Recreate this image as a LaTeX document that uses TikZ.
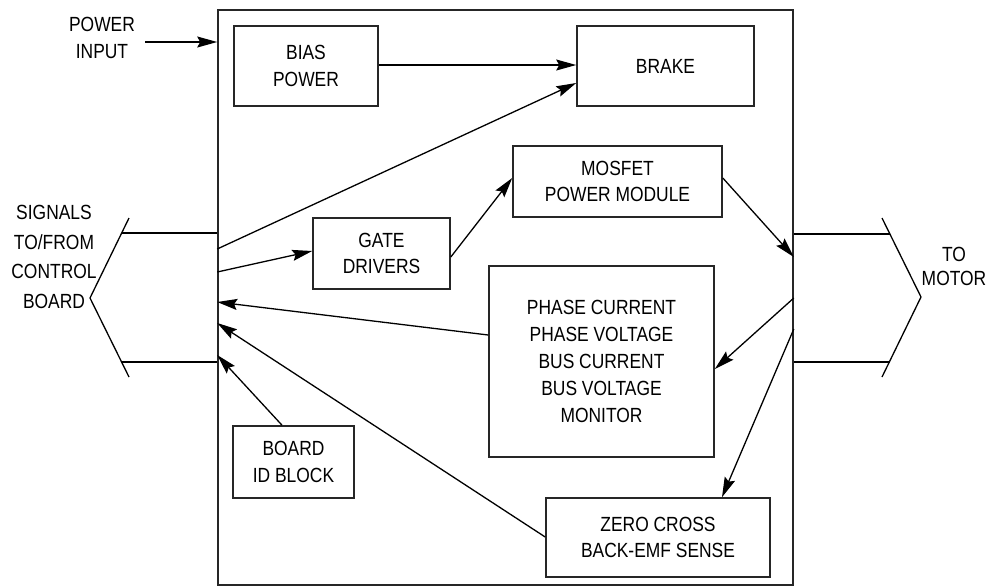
\documentclass[tikz,border=0pt]{standalone}
\usepackage{fontspec}
\setmainfont{Liberation Sans}[FakeStretch=0.85]
\usetikzlibrary{arrows.meta}
\begin{document}
\begin{tikzpicture}[x=1pt,y=-1pt,
  blk/.style={draw=black!85, line width=1.6pt, rectangle, inner sep=0pt, align=center,
    font=\fontsize{20.5}{26.5}\selectfont},
  lbl/.style={inner sep=0pt, align=center, font=\fontsize{20.5}{26.5}\selectfont},
  conn/.style={line width=1.3pt, draw=black},
  arr/.style={conn, -{Stealth[length=20pt,width=11pt,inset=3pt]}}]
\useasboundingbox (0,0) rectangle (998,587);
% blocks
\node[blk, minimum width=575pt, minimum height=575pt] (main) at (505.5,297.5) {};
\node[blk, minimum width=144pt, minimum height=80pt] (bias) at (306,66) {BIAS\\POWER};
\node[blk, minimum width=177pt, minimum height=80pt] (brake) at (665.5,66) {BRAKE};
\node[blk, minimum width=209pt, minimum height=71pt] (mosfet) at (617.5,181.5) {MOSFET\\POWER MODULE};
\node[blk, minimum width=137pt, minimum height=71pt] (gate) at (381.5,253.5) {GATE\\DRIVERS};
\node[blk, minimum width=225pt, minimum height=191pt, font=\fontsize{20.5}{27.2}\selectfont] (phase) at (601.5,361.5)
  {PHASE CURRENT\\PHASE VOLTAGE\\BUS CURRENT\\BUS VOLTAGE\\MONITOR};
\node[blk, minimum width=121pt, minimum height=72pt] (board) at (293.5,462) {BOARD\\ID BLOCK};
\node[blk, minimum width=224pt, minimum height=79pt] (zero) at (658,537.5) {ZERO CROSS\\BACK-EMF SENSE};
% outside labels
\node[lbl] (pin) at (102,38) {POWER\\INPUT};
\node[lbl, font=\fontsize{20.5}{29.5}\selectfont] (sig) at (54,257) {SIGNALS\\TO/FROM\\CONTROL\\BOARD};
\node[lbl, font=\fontsize{20.5}{24}\selectfont] (mot) at (954,266) {TO\\MOTOR};
\coordinate (pinS) at (145,42);
% left connector
\coordinate (lcT) at (129,218);
\coordinate (lcTip) at (90,298);
\coordinate (lcB) at (129,377);
\draw[conn] (lcT) -- (lcTip) -- (lcB);
\draw[conn] (main.west |- 0,233) -- (122,233);
\draw[conn] (main.west |- 0,362) -- (122,362);
% right connector
\coordinate (rcT) at (882,218);
\coordinate (rcTip) at (921,297);
\coordinate (rcB) at (882,377);
\draw[conn] (rcT) -- (rcTip) -- (rcB);
\draw[conn] (main.east |- 0,234) -- (890,234);
\draw[conn] (main.east |- 0,362) -- (890,362);
% arrows
\draw[arr] (pinS) -- (main.west |- pinS);
\draw[arr] (bias.east |- 0,65) -- (brake.west |- 0,65);
\draw[arr] (main.west |- 0,249) -- (brake.west |- 0,83);
\draw[arr] (main.west |- 0,272) -- (gate.west |- 0,251);
\draw[arr] (gate.east |- 0,257) -- (mosfet.west |- 0,178);
\draw[arr] (mosfet.east |- 0,178) -- (main.east |- 0,257);
\draw[arr] (main.east |- 0,298) -- (phase.east |- 0,369);
\draw[arr] (main.east |- 0,329) -- (zero.north -| 722,0);
\draw[arr] (phase.west |- 0,335) -- (main.west |- 0,302);
\draw[arr] (zero.west |- 0,537) -- (main.west |- 0,323);
\draw[arr] (board.north -| 282,0) -- (main.west |- 0,355);
\end{tikzpicture}
\end{document}
